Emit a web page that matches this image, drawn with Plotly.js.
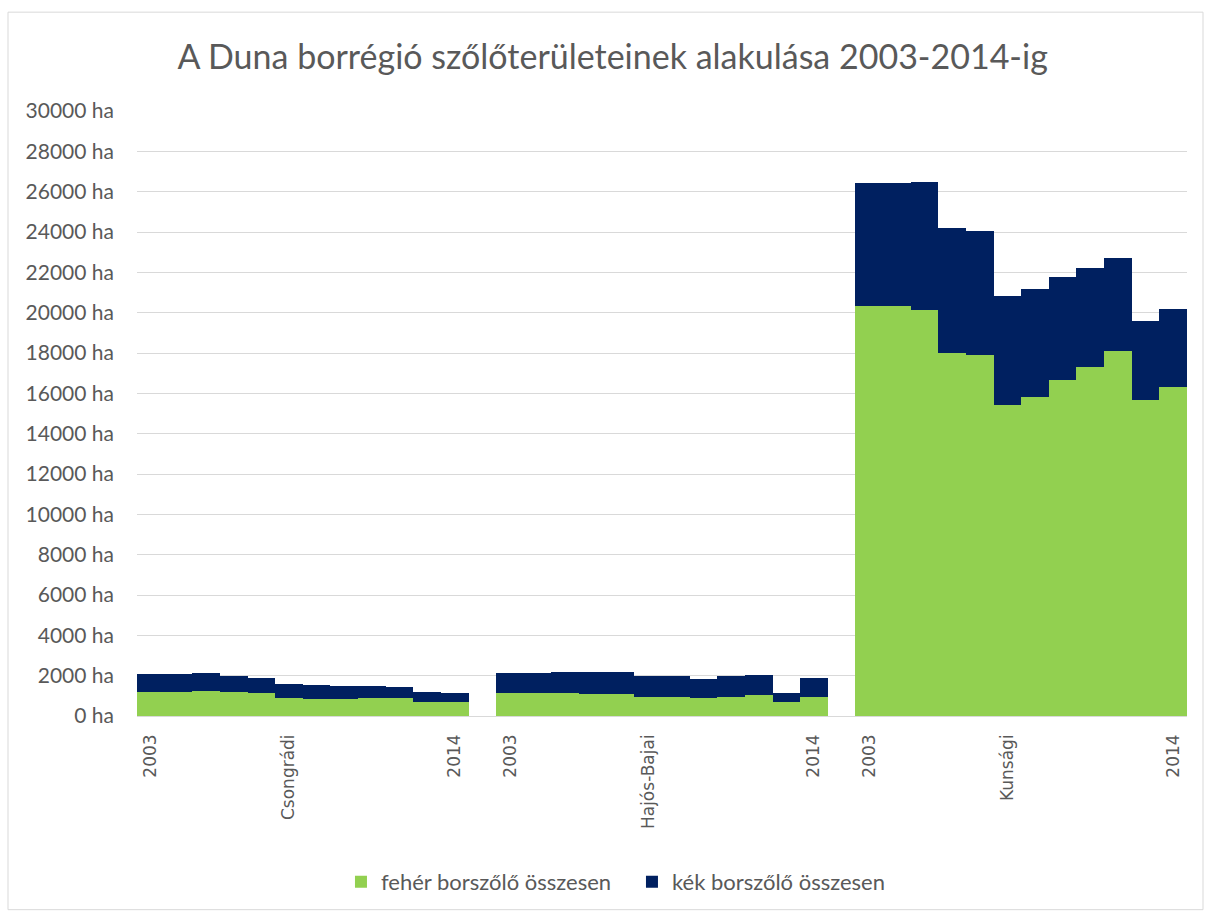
<!DOCTYPE html>
<html>
<head>
<meta charset="utf-8">
<script src="https://cdn.plot.ly/plotly-3.0.1.min.js"></script>
<style>
  html, body { margin: 0; padding: 0; background: #fff; }
  #chart { width: 1206px; height: 914px; }
</style>
</head>
<body>
<div id="chart"></div>
<script>
// ---- data ----
const years = ['2003','2004','2005','2006','2007','2008','2009','2010','2011','2012','2013','2014'];
const regions = ['Csongrádi', 'Hajós-Bajai', 'Kunsági'];
const seriesNames = ['fehér borszőlő összesen', 'kék borszőlő összesen'];

// fehér borszőlő (ha)
const feherCsongradi = [1200, 1200, 1220, 1170, 1120, 875, 860, 840, 875, 875, 693, 693];
const feherHajosBajai = [1150, 1150, 1150, 1100, 1100, 940, 940, 875, 940, 1060, 690, 940];
const feherKunsagi = [20350, 20350, 20150, 17990, 17920, 15410, 15810, 16680, 17330, 18120, 15680, 16290];

// kék borszőlő (ha)
const kekCsongradi = [880, 880, 910, 790, 760, 695, 660, 630, 625, 575, 477, 447];
const kekHajosBajai = [960, 960, 1040, 1090, 1060, 1020, 1060, 975, 1020, 990, 460, 940];
const kekKunsagi = [6100, 6100, 6350, 6200, 6120, 5400, 5380, 5100, 4900, 4570, 3890, 3910];

const feherByRegion = [feherCsongradi, feherHajosBajai, feherKunsagi];
const kekByRegion = [kekCsongradi, kekHajosBajai, kekKunsagi];

// ---- build positions (one empty slot between regions) ----
const slot = years.length + 1;
const xs = [], feher = [], kek = [], hoverLbl = [];
const tickvals = [], ticktext = [];
regions.forEach((r, g) => {
  years.forEach((y, i) => {
    const x = g * slot + i;
    xs.push(x);
    feher.push(feherByRegion[g][i]);
    kek.push(kekByRegion[g][i]);
    hoverLbl.push(r + ' ' + y);
    if (i === 0 || i === years.length - 1) { tickvals.push(x); ticktext.push(y); }
    if (i === 5) { tickvals.push(x); ticktext.push(r); }
  });
});

const traces = [
  { type: 'bar', name: seriesNames[0], x: xs, y: feher, text: hoverLbl, hoverinfo: 'text+y+name',
    marker: { color: '#92D050', line: { width: 0 } } },
  { type: 'bar', name: seriesNames[1], x: xs, y: kek, text: hoverLbl, hoverinfo: 'text+y+name',
    marker: { color: '#002060', line: { width: 0 } } }
];
traces.forEach(t => { t.textposition = 'none'; });

const layout = {
  width: 1206, height: 914,
  margin: { l: 137, r: 19, t: 111, b: 197 },
  paper_bgcolor: '#ffffff', plot_bgcolor: '#ffffff',
  barmode: 'stack', bargap: 0,
  showlegend: true,
  title: {
    text: 'A Duna borrégió szőlőterületeinek alakulása 2003-2014-ig',
    font: { family: 'Lato, sans-serif', size: 34, color: '#595959', weight: 400 },
    xref: 'container', x: 0.508, xanchor: 'center',
    yref: 'container', y: 1 - 57 / 914, yanchor: 'middle'
  },
  xaxis: {
    range: [-0.5, 3 * slot - 1 - 0.5],
    tickmode: 'array', tickvals: tickvals, ticktext: ticktext,
    tickangle: -90, showgrid: false, zeroline: false, showline: false,
    ticks: '', ticklabelstandoff: 14,
    tickfont: { family: 'DejaVu Sans, sans-serif', size: 17, color: '#595959' }
  },
  yaxis: {
    range: [0, 30000], dtick: 2000, tick0: 0, ticksuffix: ' ha',
    showgrid: true, gridcolor: '#d9d9d9', gridwidth: 1,
    zeroline: true, zerolinecolor: '#d9d9d9', zerolinewidth: 1,
    showline: false, ticks: '', ticklabelstandoff: 22,
    separatethousands: false, tickformat: 'd',
    tickfont: { family: 'Lato, sans-serif', size: 21, color: '#595959' }
  },
  legend: {
    orientation: 'h', x: 0.4714, xanchor: 'center', y: -0.272, yanchor: 'middle',
    font: { family: 'Lato, sans-serif', size: 22, color: '#595959' },
    itemsizing: 'constant', traceorder: 'normal',
    itemwidth: 30, entrywidth: 246
  },
  shapes: [{
    type: 'rect', xref: 'paper', yref: 'paper', layer: 'below',
    x0: (8 - 137) / 1050, x1: (1203 - 137) / 1050,
    y0: (717 - 911) / 606, y1: (717 - 12) / 606,
    line: { color: '#d9d9d9', width: 1 }, fillcolor: 'rgba(0,0,0,0)'
  }]
};

Plotly.newPlot('chart', traces, layout, { displayModeBar: false, responsive: false });
</script>
</body>
</html>
